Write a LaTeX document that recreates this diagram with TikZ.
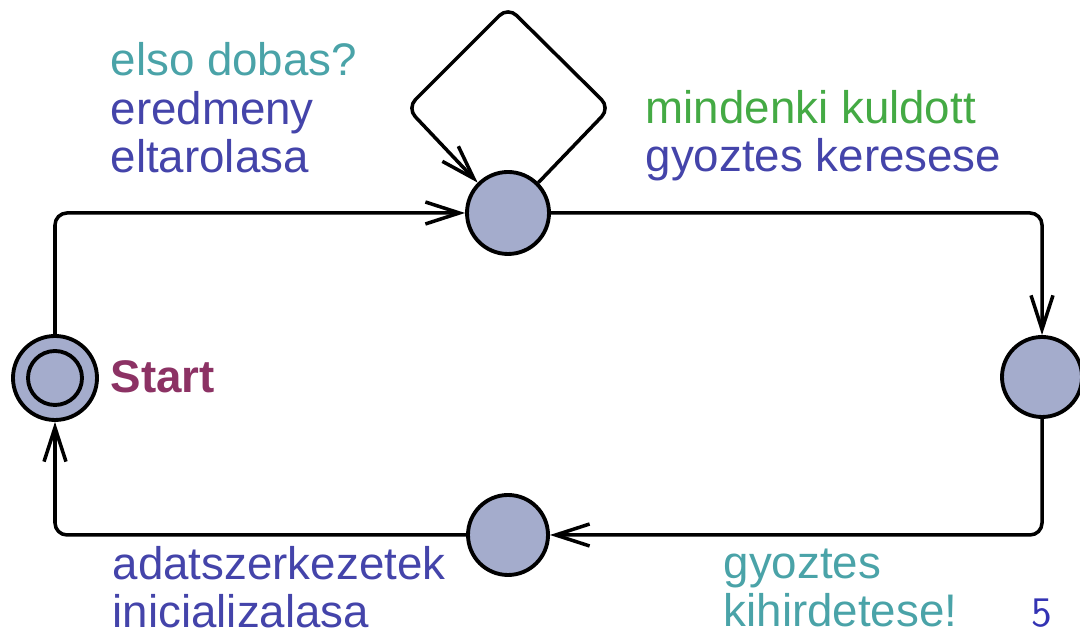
\documentclass[tikz,border=0pt]{standalone}
\usepackage{color}
\usepackage{fontspec}
\setmainfont{Liberation Sans}
\usepackage{tikz}
\usetikzlibrary{arrows.meta}
\definecolor{locfill}{RGB}{164,172,204}
\definecolor{guardcol}{RGB}{74,163,168}
\definecolor{updcol}{RGB}{68,68,170}
\definecolor{synccol}{RGB}{68,170,68}
\definecolor{namecol}{RGB}{140,50,100}
\definecolor{pagecol}{RGB}{51,51,179}

\begin{document}
\begin{tikzpicture}[
  loc/.style={circle, draw, line width=1.1pt, fill=locfill, minimum size=0.8cm, inner sep=0pt},
  trans/.style={-{Straight Barb[length=0.34cm,width=0.22cm]}, line width=1pt, rounded corners=0.12cm},
  lab/.style={anchor=base west, inner sep=0pt, align=left, font=\fontsize{13}{13.9}\selectfont}
]
\useasboundingbox (0,0) rectangle (10.8,6.36);
% locations
\node[loc, minimum size=0.84cm] (start) at (0.55,2.58) {};
\draw[line width=1.1pt] (start) circle (0.27);
\node[loc, minimum size=0.82cm] (top) at (5.08,4.23) {};
\node[loc] (right) at (10.42,2.59) {};
\node[loc] (bottom) at (5.08,1.01) {};
% transitions
\draw[trans] (start) |- (top);
\draw[trans] (top) -| (right);
\draw[trans] (right) |- (bottom);
\draw[trans] (bottom) -| (start);
\draw[trans] (top.45) -- (6.10,5.28) -- (5.08,6.29) -- (4.07,5.28) -- (top.135);
% labels (base = last line)
\node[lab, text=updcol] (upd1) at (1.10,4.63) {\textcolor{guardcol}{elso dobas?}\\eredmeny\\eltarolasa};
\node[lab, text=updcol] (upd2) at (6.45,4.64) {\textcolor{synccol}{mindenki kuldott}\\gyoztes keresese};
\node[lab, text=updcol] (upd3) at (1.12,0.08) {adatszerkezetek\\inicializalasa};
\node[lab, text=guardcol] (guard2) at (7.23,0.09) {gyoztes\\kihirdetese!};
\node[lab, text=namecol, font=\bfseries\fontsize{13}{13.9}\selectfont] (name) at (1.10,2.43) {Start};
\node[anchor=base west, inner sep=0pt, text=pagecol, font=\sffamily\fontsize{12}{14}\selectfont] (page) at (10.31,0.09) {5};
\end{tikzpicture}
\end{document}
